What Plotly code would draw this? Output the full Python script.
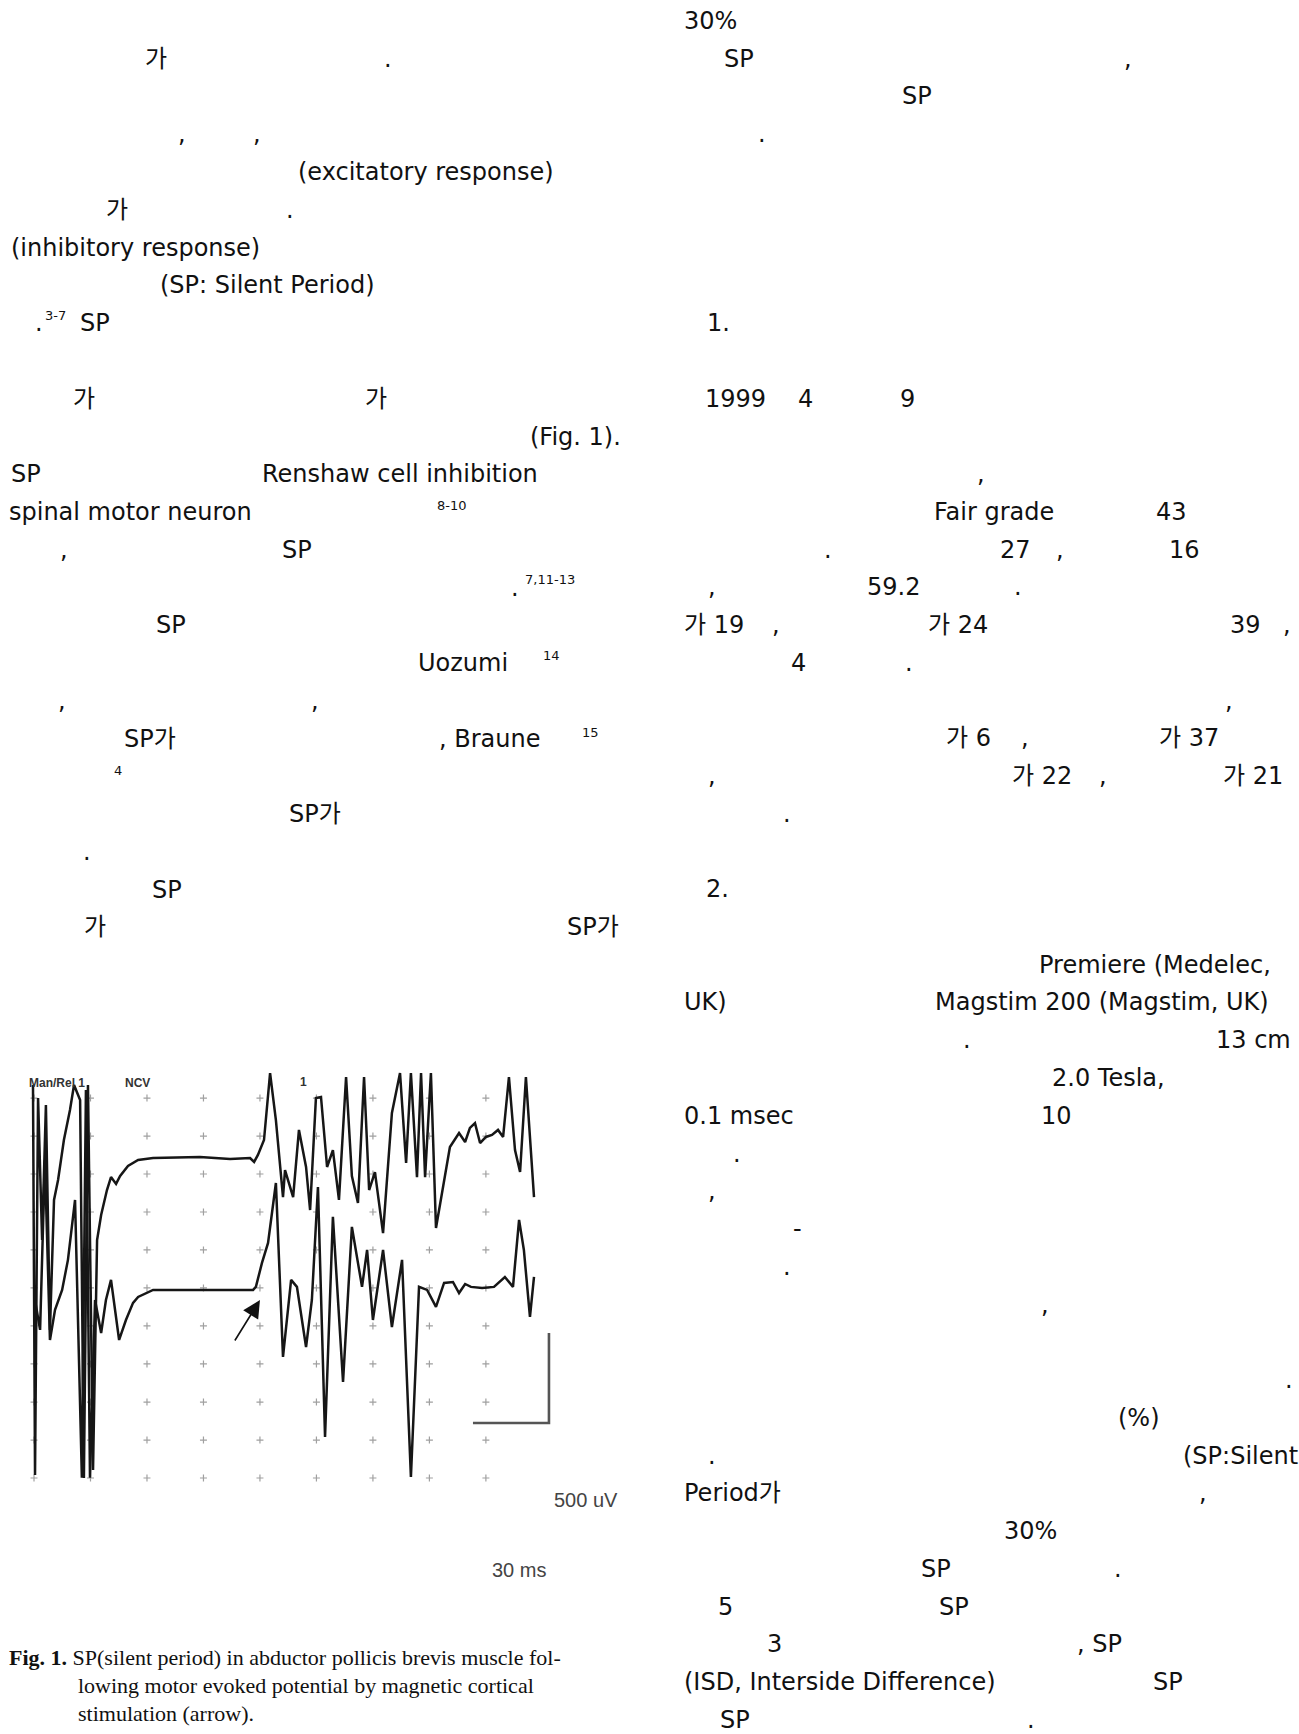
import plotly.graph_objects as go

W, H = 1299, 1734

# ---------------- data: EMG recording (time in ms, amplitude in microvolts) ----------------
trace_a_ms = [-0.4, 0.4, 1.6, 3.2, 4.7, 6.3, 7.9, 9.5, 11.8, 14.2, 15.8, 18.2, 19.7, 21.3, 23.3,
              24.9, 26.5, 28.8, 30.4, 32.4, 34.0, 37.1, 41.1, 47.0, 65.5, 77.4, 85.3, 86.9, 88.4,
              90.8, 93.2, 95.5, 98.3, 99.1, 102.3, 104.6, 107.4, 109.0, 111.3, 113.3, 115.7, 118.0,
              120.4, 123.2, 125.5, 127.9, 130.3, 132.3, 134.6, 137.8, 141.3, 144.5, 146.9, 148.8,
              151.2, 152.8, 154.4, 156.7, 158.7, 161.9, 164.2, 167.8, 170.2, 172.1, 174.1, 176.1,
              178.4, 180.8, 183.2, 185.2, 187.5, 189.9, 191.9, 194.2, 197.4]
trace_a_uv = [406, -1761, 333, -456, 294, -956, -233, -122, 100, 267, 406, 322, -1778, 406, -1733,
              -456, -317, -178, -106, -144, -100, -44, -11, 0, 6, -6, 0, -22, 17,
              100, 472, 211, -217, -67, -217, 156, -50, -289, 333, 339, -50, 44,
              -233, 450, -100, -250, 450, -178, -78, -417, 250, 472, -28, 472,
              -106, 472, -106, 472, -389, -139, 61, 139, 89, 167, 194, 83,
              117, 128, 156, 117, 450, 44, -78, 450, -217]

trace_b_ms = [0.4, 2.4, 4.3, 6.3, 8.3, 11.1, 13.4, 16.2, 18.9, 20.5, 22.1, 24.1, 26.5, 28.4, 30.4,
              32.0, 33.6, 36.3, 39.1, 41.1, 47.0, 65.5, 86.5, 87.6, 90.0, 92.4, 95.5, 98.3, 101.5,
              103.8, 107.4, 109.7, 112.1, 114.9, 118.0, 122.0, 125.5, 129.5, 131.5, 133.8, 137.8,
              141.3, 145.3, 148.8, 152.0, 155.2, 158.7, 161.9, 165.4, 167.8, 170.2, 172.5, 176.9,
              181.6, 185.9, 189.1, 191.5, 193.4, 195.8, 197.4]
trace_b_uv = [-56, -222, 722, -278, -111, 0, 167, 500, -1044, 1111, -1044, -56, -239, -56, 56,
              -111, -278, -167, -72, -39, 0, 0, 0, 17, 150, 261, 594, -372, 56,
              17, -317, -56, 572, -817, 406, -511, 350, 17, 222, -167, 222,
              -206, 167, -1039, 17, 0, -94, 39, 44, -17, 33, 17, 11,
              17, 72, 17, 389, 222, -150, 72]

grid_ms = [0, 22.3, 44.6, 66.9, 89.2, 111.5, 133.8, 156.1, 178.4]
grid_uv = [333, 122, -89, -300, -511, -722, -933, -1144, -1356, -1567, -1778]

scale_bar_ms = 30
scale_bar_uv = 500
scale_labels = ["500 uV", "30 ms"]

# ---------------- layout constants ----------------
TRACE_B_OFFSET = -733          # vertical display offset of the 2nd channel
SCALE_X_END = 203.3            # where the calibration bar corner sits (ms)
SCALE_Y_BOTTOM = -1472         # (uV)
BODY_FONT = "DejaVu Sans, Noto Sans CJK KR, sans-serif"
BODY_SIZE = 24
SUP_SIZE = 13
SERIF = "Liberation Serif, Times New Roman, serif"
SCREEN_FONT = "Liberation Sans, Arial, sans-serif"
LABEL_FONT = "Liberation Sans Narrow, Arial Narrow, Liberation Sans, sans-serif"


def px(x):
    return x / W


def py(y):
    return 1 - y / H


fig = go.Figure()

# dotted grid of the EMG screen
gx = [x for x in grid_ms for _ in grid_uv]
gy = [y for _ in grid_ms for y in grid_uv]
fig.add_trace(go.Scatter(x=gx, y=gy, mode="markers", hoverinfo="skip",
                         marker=dict(symbol="cross-thin", size=5,
                                     line=dict(width=1.2, color="#a0a0a0"))))

fig.add_trace(go.Scatter(x=trace_a_ms, y=trace_a_uv, mode="lines", hoverinfo="skip",
                         line=dict(color="#161616", width=2.5)))
fig.add_trace(go.Scatter(x=trace_b_ms, y=[v + TRACE_B_OFFSET for v in trace_b_uv],
                         mode="lines", hoverinfo="skip",
                         line=dict(color="#161616", width=2.5)))

# calibration bar
fig.add_trace(go.Scatter(x=[SCALE_X_END, SCALE_X_END, SCALE_X_END - scale_bar_ms],
                         y=[SCALE_Y_BOTTOM + scale_bar_uv, SCALE_Y_BOTTOM, SCALE_Y_BOTTOM],
                         mode="lines", hoverinfo="skip",
                         line=dict(color="#555555", width=2.6)))

fig.update_xaxes(domain=[px(20), px(560)], range=[-5.53, 207.66], visible=False)
fig.update_yaxes(domain=[py(1490), py(1060)], range=[-1844.6, 544.5], visible=False)

ann = []


def add_text(text, x, y, anchor="center", size=BODY_SIZE, family=BODY_FONT, color="#111111"):
    ann.append(dict(x=px(x), y=py(y), xref="paper", yref="paper", text=text, showarrow=False,
                    xanchor=anchor, yanchor="middle", borderpad=0,
                    font=dict(family=family, size=size, color=color)))


def place(frags, y, left_margin, right_margin):
    for text, x0, x1 in frags:
        if x0 <= left_margin + 3 and x1 - x0 > 3:
            add_text(text, x0, y, "left")
        elif x1 >= right_margin - 4 and x1 - x0 > 3:
            add_text(text, x1, y, "right")
        else:
            add_text(text, (x0 + x1) / 2, y, "center")


left_lines = {
    0: [("가", 145, 166), (".", 388, 388)],
    2: [(",", 182, 182), (",", 257, 257)],
    3: [("(excitatory response)", 294, 558)],
    4: [("가", 106, 128), (".", 290, 290)],
    5: [("(inhibitory response)", 10, 276)],
    6: [("(SP: Silent Period)", 145, 390)],
    7: [(".", 39, 39), ("SP", 77, 112)],
    9: [("가", 73, 95), ("가", 365, 387)],
    10: [("(Fig. 1).", 506, 622)],
    11: [("SP", 10, 40), ("Renshaw cell inhibition", 234, 566)],
    12: [("spinal motor neuron", 8, 269)],
    13: [(",", 64, 64), ("SP", 280, 313)],
    14: [(".", 515, 515)],
    15: [("SP", 153, 189)],
    16: [("Uozumi", 415, 510)],
    17: [(",", 62, 62), (",", 315, 315)],
    18: [("SP가", 120, 180), (", Braune", 431, 547)],
    20: [("SP가", 286, 343)],
    21: [(".", 87, 87)],
    22: [("SP", 150, 183)],
    23: [("가", 83, 107), ("SP가", 563, 620)],
}
for k, frags in left_lines.items():
    place(frags, 59 + 37.75 * k, 8, 622)

left_sups = [("3-7", 55, 316), ("8-10", 452, 505), ("7,11-13", 550, 579),
             ("14", 551, 655), ("15", 590, 732), ("4", 118, 770)]
for t, x, y in left_sups:
    add_text(t, x, y, "center", size=SUP_SIZE)

right_lines = {
    0: [("30%", 683, 735)],
    1: [("SP", 722, 756), (",", 1128, 1128)],
    2: [("SP", 900, 934)],
    3: [(".", 762, 762)],
    8: [("1.", 708, 729)],
    10: [("1999", 706, 764), ("4", 805, 805), ("9", 907, 907)],
    12: [(",", 981, 981)],
    13: [("Fair grade", 925, 1062), ("43", 1157, 1186)],
    14: [(".", 828, 828), ("27", 1002, 1029), (",", 1060, 1060), ("16", 1171, 1198)],
    15: [(",", 712, 712), ("59.2", 865, 921), (".", 1018, 1018)],
    16: [("가 19", 683, 747), (",", 776, 776), ("가 24", 925, 991), ("39", 1232, 1258), (",", 1287, 1287)],
    17: [("4", 799, 799), (".", 909, 909)],
    18: [(",", 1229, 1229)],
    19: [("가 6", 942, 994), (",", 1025, 1025), ("가 37", 1157, 1221)],
    20: [(",", 712, 712), ("가 22", 1010, 1074), (",", 1103, 1103), ("가 21", 1219, 1287)],
    21: [(".", 787, 787)],
    23: [("2.", 706, 729)],
    25: [("Premiere (Medelec,", 1020, 1289)],
    26: [("UK)", 683, 737), ("Magstim 200 (Magstim, UK)", 915, 1289)],
    27: [(".", 967, 967), ("13 cm", 1217, 1289)],
    28: [("2.0 Tesla,", 1043, 1174)],
    29: [("0.1 msec", 683, 793), ("10", 1043, 1070)],
    30: [(".", 737, 737)],
    31: [(",", 712, 712)],
    32: [("-", 797, 797)],
    33: [(".", 787, 787)],
    34: [(",", 1045, 1045)],
    36: [(".", 1289, 1289)],
    37: [("(%)", 1116, 1161)],
    38: [(".", 712, 712), ("(SP:Silent", 1159, 1299)],
    39: [("Period가", 683, 797), (",", 1203, 1203)],
    40: [("30%", 1004, 1056)],
    41: [("SP", 919, 952), (".", 1118, 1118)],
    42: [("5", 718, 733), ("SP", 938, 971)],
    43: [("3", 768, 780), (", SP", 1072, 1126)],
    44: [("(ISD, Interside Difference)", 683, 1029), ("SP", 1151, 1184)],
    45: [("SP", 718, 751), (".", 1031, 1031)],
}
for k, frags in right_lines.items():
    place(frags, 21 + 37.75 * k, 683, 1299)

# screen header of the EMG machine
add_text("<b>Man/Rel 1</b>", 28, 1083, "left", size=12, family=SCREEN_FONT, color="#333333")
add_text("<b>NCV</b>", 124, 1083, "left", size=12, family=SCREEN_FONT, color="#333333")
add_text("<b>1</b>", 303, 1082, "center", size=12, family=SCREEN_FONT, color="#333333")

# calibration labels
add_text(scale_labels[0], 553, 1500, "left", size=20, family=LABEL_FONT, color="#444444")
add_text(scale_labels[1], 491, 1570, "left", size=20, family=LABEL_FONT, color="#444444")

# arrow pointing at the silent period
ann.append(dict(x=89.2, y=-56 + TRACE_B_OFFSET, xref="x", yref="y", text="", showarrow=True,
                ax=-26, ay=42, arrowhead=2, arrowsize=2.2, arrowwidth=1.6, arrowcolor="#111111",
                standoff=0))

# caption
add_text("<b>Fig. 1.</b> SP(silent period) in abductor pollicis brevis muscle fol-", 8, 1657, "left",
         size=22, family=SERIF, color="#111111")
add_text("lowing motor evoked potential by magnetic cortical", 77, 1685, "left",
         size=22, family=SERIF, color="#111111")
add_text("stimulation (arrow).", 77, 1713, "left", size=22, family=SERIF, color="#111111")

fig.update_layout(width=W, height=H, margin=dict(l=0, r=0, t=0, b=0),
                  paper_bgcolor="white", plot_bgcolor="white", showlegend=False,
                  annotations=ann)

fig.write_html("out.html", config={"displayModeBar": False},
               post_script="document.body.style.margin='0px';")
